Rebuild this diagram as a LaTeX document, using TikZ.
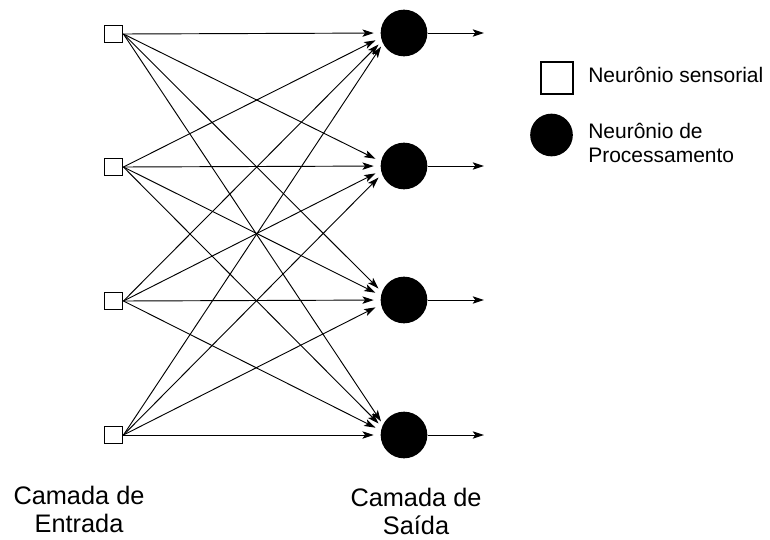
\documentclass[tikz,border=0pt]{standalone}
\usepackage{fontspec}
\setmainfont{Liberation Sans}
\usetikzlibrary{arrows.meta}
\begin{document}
\begin{tikzpicture}[x=0.75pt,y=-0.75pt,
  sensor/.style={draw, line width=0.9pt, minimum width=14pt, minimum height=13pt, inner sep=0pt},
  proc/.style={circle, fill=black, minimum size=35pt, inner sep=0pt},
  aim/.style={circle, minimum size=24pt, inner sep=0pt},
  link/.style={line width=0.7pt, -{Stealth[length=8.5pt,width=5.5pt,inset=2pt]}},
  lbl/.style={inner sep=0pt, align=center, font=\fontsize{19}{21}\selectfont},
  legtxt/.style={inner sep=0pt, align=left, font=\fontsize{15.75}{18}\selectfont}]
\useasboundingbox (0,0) rectangle (770,539);

% input layer (sensory neurons)
\foreach \i/\y in {1/34,2/167,3/301,4/435}
  \node[sensor] (in\i) at (113.5,\y) {};

% output layer (processing neurons), arrow targets and outgoing arrows
\foreach \j/\y in {1/33,2/166,3/300,4/435} {
  \node[proc] (out\j) at (404,\y) {};
  \node[aim] (tg\j) at (390,\y) {};
  \coordinate (end\j) at (484,\y);
  \draw[link] (out\j.east) -- (end\j);
}

% full connection between the two layers
\foreach \i in {1,...,4}
  \foreach \j in {1,...,4}
    \draw[link] (in\i.east) -- (tg\j);

% legend
\node[draw, line width=0.9pt, minimum size=24pt, inner sep=0pt] (legsq) at (557,78) {};
\node[legtxt, anchor=base west] (legsqtxt) at (588,82) {Neurônio sensorial};
\node[proc, minimum size=32pt] (legci) at (551.5,135) {};
\node[legtxt, anchor=north west] (legcitxt) at (588,122.5) {Neurônio de\\Processamento};

% layer captions
\node[lbl, anchor=north] (capin) at (79,486) {Camada de\\Entrada};
\node[lbl, anchor=north] (capout) at (416,487.5) {Camada de\\Saída};
\end{tikzpicture}
\end{document}
